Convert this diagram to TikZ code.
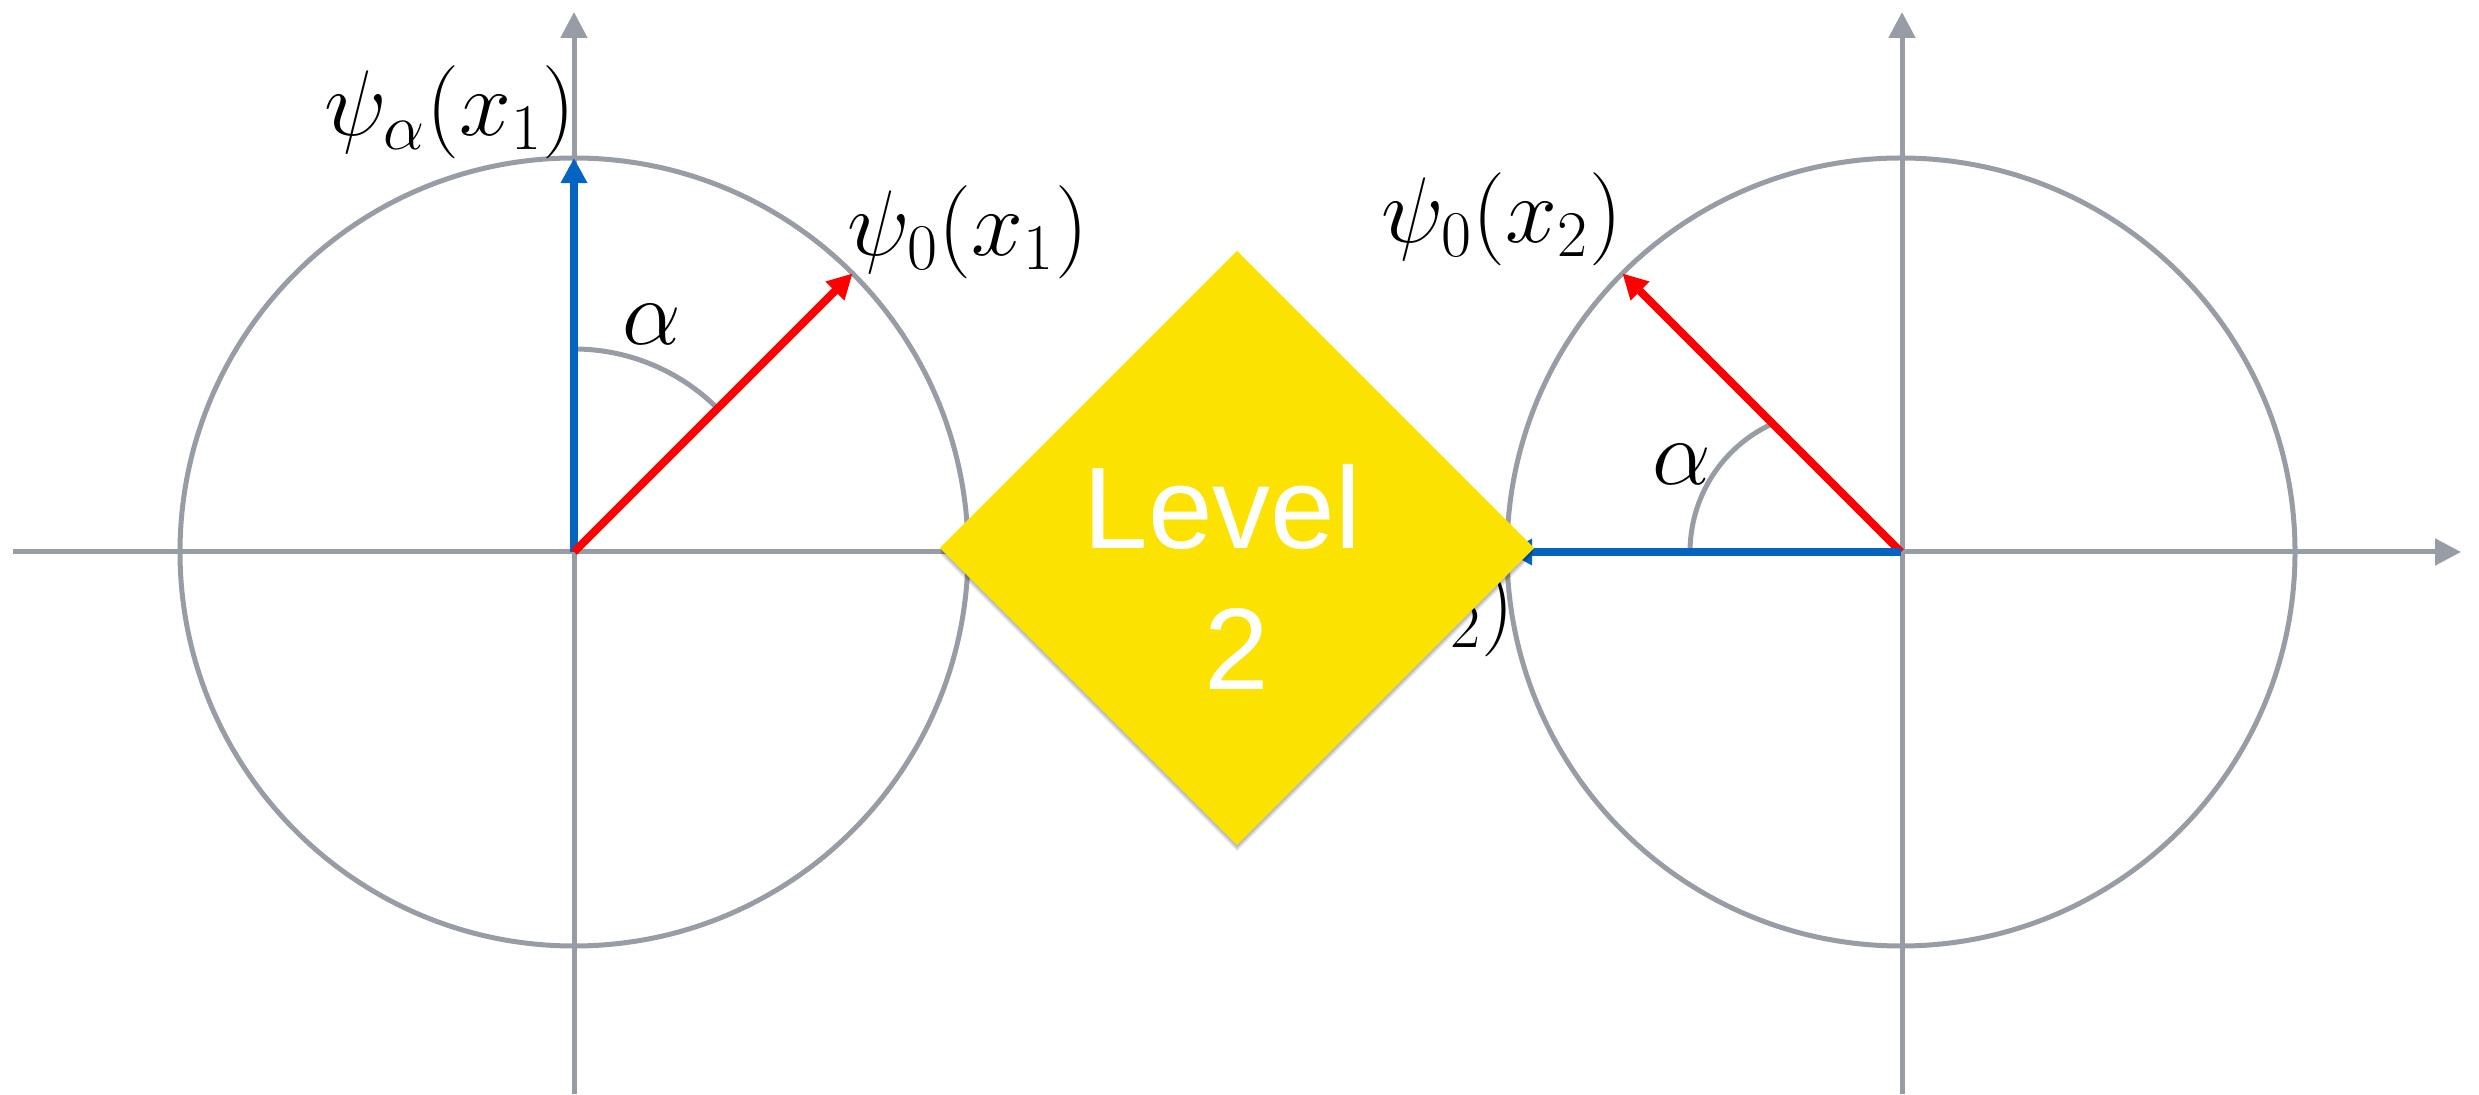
\RequirePackage{fix-cm}
\documentclass[tikz,border=0pt]{standalone}
\usepackage{fontspec}
\newfontfamily\lvlfont{Liberation Sans}
\usetikzlibrary{arrows.meta,shapes.geometric}
\definecolor{axgray}{RGB}{152,156,165}
\definecolor{vblue}{RGB}{5,99,193}
\definecolor{vred}{RGB}{255,0,0}
\definecolor{dyellow}{RGB}{252,226,0}
\begin{document}
\begin{tikzpicture}[x=0.01cm,y=0.01cm,
  axis/.style={draw=axgray,line width=0.05cm,-{Triangle[length=0.26cm,width=0.26cm]}},
  circ/.style={draw=axgray,line width=0.05cm},
  vec/.style={line width=0.08cm,-{Triangle[length=0.25cm,width=0.25cm]}},
  anglearc/.style={draw=axgray,line width=0.05cm},
  lbl/.style={inner sep=0pt,font=\fontsize{26.5}{30}\selectfont},
  lvlstyle/.style={diamond,aspect=1,fill=dyellow,inner sep=0pt,outer sep=0pt,minimum width=5.94cm,minimum height=5.94cm},
  shadowstyle/.style={fill=black,opacity=0.1},
  ]
\useasboundingbox (0,0) rectangle (2479,1094);
% key points
\coordinate (O1) at (574,542);
\coordinate (O2) at (1901,542);
\coordinate (HL) at (13,542);
\coordinate (HR) at (2461,542);
\coordinate (V1b) at (574,0);
\coordinate (V1t) at (574,1082);
\coordinate (V2b) at (1902,0);
\coordinate (V2t) at (1902,1082);
\coordinate (B1) at (574,936);
\coordinate (R1) at (852.6,820.6);
\coordinate (R2) at (1622.4,820.6);
\coordinate (B2) at (1507,542);
\coordinate (A1s) at (574,745);
\coordinate (A2s) at (1690,542);
\coordinate (LC) at (1237,546);
% axes
\draw[axis] (HL) -- (HR);
\draw[axis] (V1b) -- (V1t);
\draw[axis] (V2b) -- (V2t);
% circles
\draw[circ] (O1) circle[radius=394];
\draw[circ] (O2) circle[radius=394];
% angle arcs
\draw[anglearc] (A1s) arc[start angle=90,end angle=45,radius=203];
\draw[anglearc] (A2s) arc[start angle=180,end angle=115.7,radius=141];
% vectors
\draw[vec,vblue] (O1) -- (B1);
\draw[vec,vred] (O1) -- (R1);
\draw[vec,vred] (O2) -- (R2);
\draw[vec,vblue] (O2) -- (B2);
% labels
\node[lbl] (la1) at (450,982) {$\psi_\alpha(x_1)$};
\node[lbl] (l01) at (968,862) {$\psi_0(x_1)$};
\node[lbl] (l02) at (1502,875) {$\psi_0(x_2)$};
\node[lbl] (la2) at (1389,484) {$\psi_\alpha(x_2)$};
\node[lbl] (al1) at (652,770) {$\alpha$};
\node[lbl] (al2) at (1682,630) {$\alpha$};
% diamond shadow
\foreach \d in {2,4,6}
  \fill[shadowstyle] ([yshift=-\d*0.01cm]LC) ++(-297,0) -- ++(297,297) -- ++(297,-297) -- ++(-297,-297) -- cycle;
% diamond
\node[lvlstyle] (lvl) at (LC) {};
\node[text=white,font=\lvlfont\fontsize{33}{40}\selectfont,align=center,inner sep=0pt] (lvltext) at (1237,517) {Level\hspace*{0.25em}\\2};
\end{tikzpicture}
\end{document}
